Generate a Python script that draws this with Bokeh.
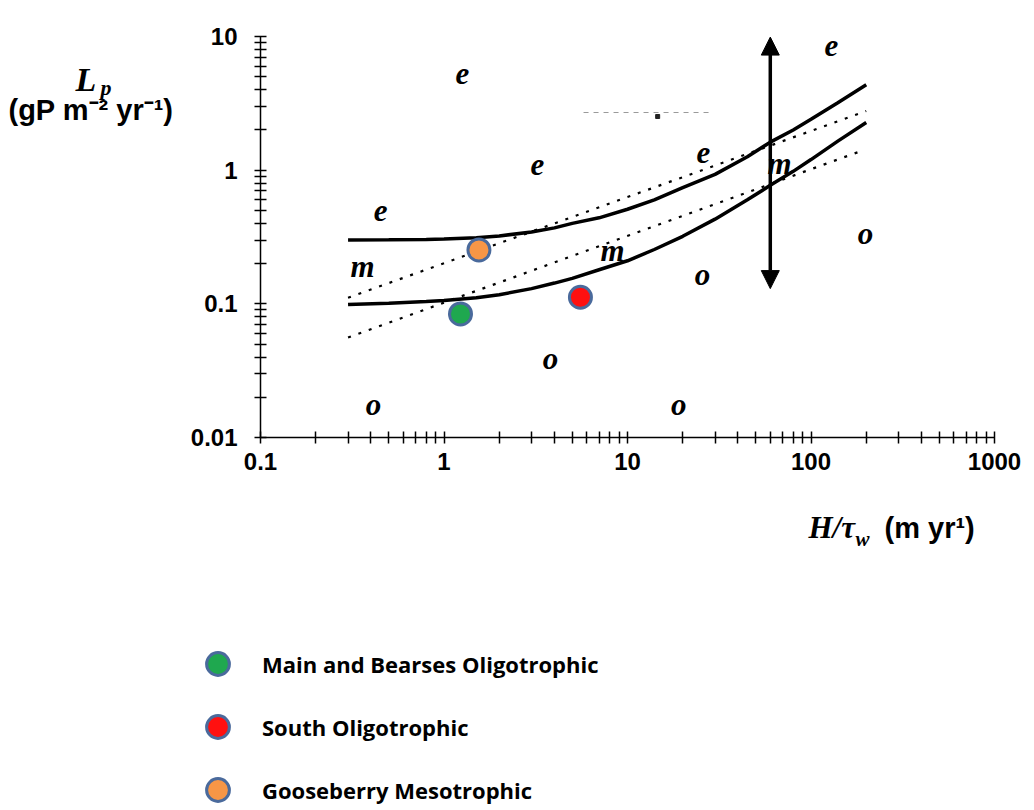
import math
from bokeh.plotting import figure
from bokeh.models import (FixedTicker, CustomJSTickFormatter, Label, Arrow, NormalHead,
                          Legend, LegendItem, LogAxis, Range1d, Grid)
from bokeh.core.properties import value
from bokeh.embed import file_html
from bokeh.resources import INLINE

# ---------------- data ----------------
x_major = [0.1, 1, 10, 100, 1000]
x_labels = ["0.1", "1", "10", "100", "1000"]
y_major = [0.01, 0.1, 1, 10]
y_labels = ["0.01", "0.1", "1", "10"]

# boundary curves (solid)
upper_x = [0.3, 0.5, 0.8, 1, 1.5, 2, 3, 4, 5, 7, 10, 14, 20, 30, 45, 60, 80, 100, 140, 200]
upper_y = [0.300, 0.301, 0.303, 0.305, 0.312, 0.322, 0.345, 0.37, 0.40, 0.44, 0.51, 0.60,
           0.74, 0.93, 1.26, 1.62, 2.0, 2.4, 3.2, 4.35]
lower_x = [0.3, 0.5, 0.8, 1, 1.5, 2, 3, 4, 5, 7, 10, 14, 20, 30, 45, 60, 80, 100, 140, 200]
lower_y = [0.099, 0.101, 0.104, 0.106, 0.111, 0.117, 0.130, 0.143, 0.155, 0.18, 0.21, 0.255,
           0.32, 0.43, 0.60, 0.77, 0.98, 1.2, 1.65, 2.27]

# dotted reference lines
dot_upper_x = [0.3, 200]
dot_upper_y = [0.111, 2.77]
dot_lower_x = [0.3, 190]
dot_lower_y = [0.056, 1.40]

# faint dashed fragment near the top
faint_x = [5.76, 29.0]
faint_y = [2.70, 2.70]
faint_dot_x = [14.6]
faint_dot_y = [2.52]

# vertical double arrow
arrow_x = 60
arrow_y0 = 0.13
arrow_y1 = 9.9

# lakes
lake_names = ["Main and Bearses Oligotrophic", "South Oligotrophic", "Gooseberry Mesotrophic"]
lake_x = [1.23, 5.54, 1.55]
lake_y = [0.084, 0.112, 0.253]
lake_colors = ["#1fa84f", "#ff1010", "#f79646"]

# trophic-state letters
letters = ["e", "e", "e", "e", "e", "m", "m", "m", "o", "o", "o", "o", "o"]
letter_x = [1.26, 3.23, 25.9, 0.451, 129, 0.36, 8.28, 67.3, 0.413, 3.80, 19.0, 25.6, 198]
letter_y = [5.28, 1.10, 1.35, 0.499, 8.55, 0.19, 0.251, 1.12, 0.0177, 0.039, 0.0177, 0.1655, 0.336]

# ---------------- layout (pixels) ----------------
W, H = 1030, 806
AX_LEFT, AX_RIGHT = 260, 994      # x = 0.1 .. 1000
AX_TOP, AX_BOTTOM = 36, 437       # y = 10 .. 0.01

xdec = (AX_RIGHT - AX_LEFT) / (math.log10(x_major[-1]) - math.log10(x_major[0]))
ydec = (AX_BOTTOM - AX_TOP) / (math.log10(y_major[-1]) - math.log10(y_major[0]))
x0 = 10 ** (math.log10(x_major[0]) - AX_LEFT / xdec)
x1 = 10 ** (math.log10(x_major[-1]) + (W - AX_RIGHT) / xdec)
y1 = 10 ** (math.log10(y_major[-1]) + AX_TOP / ydec)
y0 = 10 ** (math.log10(y_major[0]) - (H - AX_BOTTOM) / ydec)

p = figure(width=W, height=H, x_axis_type="log", y_axis_type="log",
           x_axis_location=None, y_axis_location=None,
           x_range=Range1d(x0, x1), y_range=Range1d(y0, y1),
           output_backend="svg", toolbar_location=None, min_border=0)
p.outline_line_color = None
p.background_fill_color = "white"
p.border_fill_color = "white"
for r in list(p.center) + list(p.renderers):
    if isinstance(r, Grid):
        r.visible = False
p.center = [r for r in p.center if not isinstance(r, Grid)]


def minor_of(majors):
    return [m * k for m in majors[:-1] for k in range(2, 10)]


fmt_code = ("let best = -1, bd = 1e9;"
            "for (let i = 0; i < vals.length; i++) {"
            "  const d = Math.abs(Math.log10(vals[i]) - Math.log10(tick));"
            "  if (d < bd) { bd = d; best = i; } }"
            "return bd < 1e-6 ? labs[best] : '';")

xaxis = LogAxis(fixed_location=y_major[0], bounds=(x_major[0], x_major[-1]),
                ticker=FixedTicker(ticks=x_major, minor_ticks=minor_of(x_major)),
                formatter=CustomJSTickFormatter(args=dict(vals=x_major, labs=x_labels), code=fmt_code))
yaxis = LogAxis(fixed_location=x_major[0], bounds=(y_major[0], y_major[-1]),
                ticker=FixedTicker(ticks=y_major, minor_ticks=minor_of(y_major)),
                formatter=CustomJSTickFormatter(args=dict(vals=y_major, labs=y_labels), code=fmt_code))
for ax in (xaxis, yaxis):
    ax.axis_line_color = "black"
    ax.axis_line_width = 1.5
    ax.major_tick_in = 6
    ax.major_tick_out = 6
    ax.minor_tick_in = 6
    ax.minor_tick_out = 6
    ax.major_tick_line_width = 1.5
    ax.minor_tick_line_width = 1.5
    ax.major_tick_line_color = "black"
    ax.minor_tick_line_color = "black"
    ax.major_label_text_font = "Liberation Sans"
    ax.major_label_text_font_style = "bold"
    ax.major_label_text_font_size = "24px"
    ax.major_label_text_color = "black"
xaxis.major_label_standoff = 9
yaxis.major_label_standoff = 17
p.add_layout(xaxis, "below")
p.add_layout(yaxis, "left")

# curves
p.line(upper_x, upper_y, line_color="black", line_width=3.5)
p.line(lower_x, lower_y, line_color="black", line_width=3.5)
p.line(dot_upper_x, dot_upper_y, line_color="black", line_width=2.2, line_dash="3 8")
p.line(dot_lower_x, dot_lower_y, line_color="black", line_width=2.2, line_dash="3 8")
p.line(faint_x, faint_y, line_color="#9a9a9a", line_width=1.2, line_dash="5 5")
p.scatter(faint_dot_x, faint_dot_y, marker="square", size=4, color="#222222")

# arrow
p.add_layout(Arrow(start=NormalHead(size=18, fill_color="black", line_color="black"),
                   end=NormalHead(size=18, fill_color="black", line_color="black"),
                   x_start=arrow_x, y_start=arrow_y0, x_end=arrow_x, y_end=arrow_y1,
                   line_color="black", line_width=3.5))

# letters
p.text(x=letter_x, y=letter_y, text=letters, text_font=value("Liberation Serif"),
       text_font_style="bold italic", text_font_size="31px", text_color="black",
       text_align="center", text_baseline="middle")

# lake points
items = []
for name, lx, ly, col in zip(lake_names, lake_x, lake_y, lake_colors):
    r = p.scatter([lx], [ly], size=22, fill_color=col, line_color="#4a6a9c", line_width=3)
    items.append(LegendItem(label=name, renderers=[r]))

legend = Legend(items=items, location=(189, H - 818), glyph_width=57, glyph_height=57,
                spacing=6, padding=0, margin=0, border_line_color=None,
                background_fill_alpha=0, label_text_font="Open Sans",
                label_text_font_style="bold", label_text_font_size="22px",
                label_standoff=16, label_text_color="black")
p.add_layout(legend)

# axis titles (canvas screen coordinates, y measured from the bottom)
serif = "Liberation Serif"
sans = "Liberation Sans"


def lab(x, y_top, text, font, style, size, baseline="alphabetic"):
    p.add_layout(Label(x=x, y=H - y_top, x_units="screen", y_units="screen", text=text,
                       text_font=font, text_font_style=style, text_font_size=size,
                       text_baseline=baseline, text_color="black"))


lab(808, 527, "H/τ", serif, "bold italic", "31px")
lab(855, 538, "w", serif, "bold italic", "21px")
lab(884, 527, "(m yr¹)", sans, "bold", "29px")
lab(75, 79, "L", serif, "bold italic", "34px")
lab(100, 87, "p", serif, "bold italic", "22px")
lab(8, 109, "(gP m⁻² yr⁻¹)", sans, "bold", "29px")

open("out.html", "w").write(file_html(p, INLINE))
